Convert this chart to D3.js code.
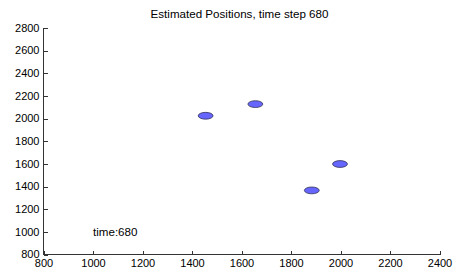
<!DOCTYPE html>
<html>
<head>
<meta charset="utf-8">
<script src="https://cdn.jsdelivr.net/npm/d3@7"></script>
<style>
  body { margin: 0; background: #fff; }
  text { font-family: "Liberation Sans", Arial, sans-serif; }
</style>
</head>
<body>
<div id="chart"></div>
<script>
// estimated positions (data units)
const posX = [1455, 1656, 1998, 1884];
const posY = [2025, 2128, 1599, 1366];
const radius = 30;
const xTicks = [800, 1000, 1200, 1400, 1600, 1800, 2000, 2200, 2400];
const yTicks = [800, 1000, 1200, 1400, 1600, 1800, 2000, 2200, 2400, 2600, 2800];
const titleText = 'Estimated Positions, time step 680';
const note = { x: 1000, y: 1000, label: 'time:680' };

const W = 457, H = 275;
const margin = { top: 28, right: 17.5, bottom: 20.5, left: 43.5 };

const svg = d3.select('#chart')
    .append('svg')
    .attr('width', W)
    .attr('height', H);

const x = d3.scaleLinear().domain([800, 2400]).range([margin.left, W - margin.right]);
const y = d3.scaleLinear().domain([800, 2800]).range([H - margin.bottom, margin.top]);

// ellipses: circles in data space
svg.selectAll('ellipse')
    .data(posX.map((d, i) => ({ x: d, y: posY[i] })))
    .enter().append('ellipse')
    .attr('cx', d => x(d.x))
    .attr('cy', d => y(d.y))
    .attr('rx', x(800 + radius) - x(800))
    .attr('ry', y(800) - y(800 + radius))
    .attr('fill', '#6666ff')
    .attr('stroke', '#333355')
    .attr('stroke-width', 0.8);

// x axis, ticks point inward
const xAxis = svg.append('g')
    .attr('transform', `translate(0,${y(800)})`)
    .call(d3.axisBottom(x).tickValues(xTicks).tickFormat(d3.format('d'))
        .tickSizeInner(-4).tickSizeOuter(0).tickPadding(3));
xAxis.selectAll('text').attr('font-size', 11).attr('fill', '#000').attr('dy', '0.9em');

const yAxis = svg.append('g')
    .attr('transform', `translate(${x(800)},0)`)
    .call(d3.axisLeft(y).tickValues(yTicks).tickFormat(d3.format('d'))
        .tickSizeInner(-4).tickSizeOuter(0).tickPadding(4));
yAxis.selectAll('text').attr('font-size', 11).attr('fill', '#000').attr('dy', '0.3em');

svg.selectAll('.tick line').attr('stroke', '#333').attr('shape-rendering', 'crispEdges');
yAxis.select('.domain').remove();
xAxis.select('.domain').remove();
svg.append('line')
    .attr('x1', x(800)).attr('x2', x(800))
    .attr('y1', y(2800)).attr('y2', y(800))
    .attr('stroke', '#333').attr('shape-rendering', 'crispEdges');
svg.append('line')
    .attr('x1', x(800)).attr('x2', x(2400))
    .attr('y1', y(800)).attr('y2', y(800))
    .attr('stroke', '#333').attr('shape-rendering', 'crispEdges');

// title
svg.append('text')
    .attr('x', (x(800) + x(2400)) / 2 - 2)
    .attr('y', 18)
    .attr('text-anchor', 'middle')
    .attr('font-size', 11.6)
    .text(titleText);

// time label
svg.append('text')
    .attr('x', x(note.x))
    .attr('y', y(note.y))
    .attr('dy', '0.35em')
    .attr('font-size', 11.6)
    .text(note.label);
</script>
</body>
</html>
